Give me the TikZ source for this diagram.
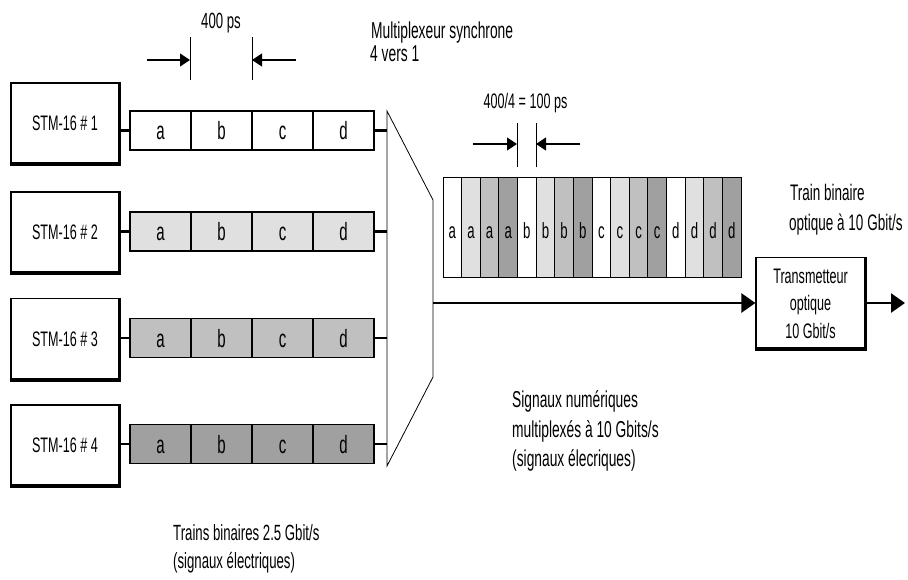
\documentclass[tikz,border=0pt]{standalone}
\usepackage{fontspec}
\setmainfont{Liberation Sans}[FakeStretch=0.6]
\usetikzlibrary{arrows.meta}
\definecolor{gA}{RGB}{255,255,255}
\definecolor{gB}{RGB}{224,224,224}
\definecolor{gC}{RGB}{192,192,192}
\definecolor{gD}{RGB}{160,160,160}
\begin{document}
\begin{tikzpicture}[x=1pt,y=-1pt,
  stmbox/.style={draw,line width=1.2pt,fill=white,minimum width=108pt,minimum height=80pt,inner sep=0pt,text height=15pt,text depth=0pt,font=\fontsize{21}{24}\selectfont},
  cell/.style={draw,line width=1.2pt,minimum width=61pt,minimum height=39pt,inner sep=0pt,text height=18pt,text depth=0pt,font=\fontsize{25}{28}\selectfont},
  mcell/.style={draw,line width=1pt,minimum width=18.625pt,minimum height=100pt,inner sep=0pt,text height=22pt,text depth=0pt,font=\fontsize{22}{26}\selectfont},
  lbl/.style={inner sep=0pt,font=\fontsize{21}{24}\selectfont},
  lblb/.style={inner sep=0pt,font=\fontsize{23}{26}\selectfont},
  link/.style={line width=2.6pt},
  bigarrow/.style={line width=2.6pt,-{Triangle[length=14pt,width=19pt]}},
  dimarrow/.style={line width=1.2pt,-{Triangle[length=10pt,width=13pt]}},
  tick/.style={line width=1pt}
]
\useasboundingbox (0,0) rectangle (908,579);

% STM boxes
\node[stmbox] (stm1) at (65,123) {STM-16 \# 1};
\node[stmbox] (stm2) at (65,232) {STM-16 \# 2};
\node[stmbox] (stm3) at (65,338.5) {STM-16 \# 3};
\node[stmbox] (stm4) at (65,445) {STM-16 \# 4};
\foreach \s in {stm1,stm2,stm3,stm4}{
  \draw[line width=3pt] ([xshift=-0.6pt,yshift=-1pt]\s.south west) -- ([xshift=1pt,yshift=-1pt]\s.south east);
  \draw[line width=1.8pt] ([xshift=0.6pt]\s.north east) -- ([xshift=0.6pt]\s.south east);
}

% packets
\foreach \r/\y/\col in {1/130.5/gA,2/231.5/gB,3/338/gC,4/444/gD}{
  \foreach \l [count=\i from 0] in {a,b,c,d}{
    \node[cell,fill=\col] (p\r\l) at (160.5+61*\i,\y) {\l};
  }
}

% multiplexer shape
\coordinate (mtl) at (387,111);
\coordinate (mbl) at (387,466);
\coordinate (mtr) at (433,200);
\coordinate (mbr) at (433,377);
\coordinate (mout) at (433,303);
\draw[line width=0.8pt] (mtl) -- (mbl) -- (mbr) -- (mtr) -- cycle;

% links
\foreach \r in {1,2,3,4}{
  \draw[link] (stm\r.east |- p\r a.west) -- (p\r a.west);
  \draw[link] (p\r d.east) -- (p\r d.east -| mtl);
}

% multiplexed train
\foreach \l [count=\j from 0] in {a,b,c,d}{
  \foreach \col [count=\k from 0] in {gA,gB,gC,gD}{
    \pgfmathsetmacro{\xx}{443+18.625*(4*\j+\k+0.5)}
    \node[mcell,fill=\col] (m\l\k) at (\xx,227) {\l};
  }
}

% transmitter
\node[draw,line width=1.2pt,fill=white,minimum width=109pt,minimum height=90pt,inner sep=0pt] (tx) at (810.5,302.5) {};
\draw[line width=3pt] ([xshift=-0.6pt,yshift=-1pt]tx.south west) -- ([xshift=1pt,yshift=-1pt]tx.south east);
\draw[line width=1.8pt] ([xshift=0.6pt]tx.north east) -- ([xshift=0.6pt]tx.south east);
\node[lbl,anchor=base] (tx1) at (810.5,283) {Transmetteur};
\node[lbl,anchor=base] (tx2) at (810.5,310) {optique};
\node[lbl,anchor=base] (tx3) at (810.5,338) {10 Gbit/s};
\coordinate (txend) at (905,303);

\draw[bigarrow] (mout) -- (tx.west |- mout);
\draw[bigarrow] (tx.east |- txend) -- (txend);

% dimension 400 ps
\coordinate (t1a) at (190,37); \coordinate (t1b) at (190,80);
\coordinate (t2a) at (252,37); \coordinate (t2b) at (252,80);
\coordinate (a1s) at (147,60); \coordinate (a2s) at (296,60);
\draw[tick] (t1a) -- (t1b);
\draw[tick] (t2a) -- (t2b);
\draw[dimarrow] (a1s) -- (a1s -| t1a);
\draw[dimarrow] (a2s) -- (a2s -| t2a);
\node[lbl,anchor=base,font=\fontsize{22}{24}\selectfont] (l400) at (221,28) {400 ps};

% dimension 100 ps
\coordinate (u1a) at (517,123); \coordinate (u1b) at (517,167);
\coordinate (u2a) at (536,123); \coordinate (u2b) at (536,167);
\coordinate (b1s) at (473,144); \coordinate (b2s) at (580,144);
\draw[tick] (u1a) -- (u1b);
\draw[tick] (u2a) -- (u2b);
\draw[dimarrow] (b1s) -- (b1s -| u1a);
\draw[dimarrow] (b2s) -- (b2s -| u2a);
\node[lbl,anchor=base] (l100) at (525.5,108) {400/4 = 100 ps};

% labels
\node[lblb,anchor=base west] (mux1) at (371,38) {Multiplexeur synchrone};
\node[lblb,anchor=base west] (mux2) at (370,61) {4 vers 1};
\node[lblb,anchor=base west,font=\fontsize{22.5}{26}\selectfont] (tr1) at (790,200) {Train binaire};
\node[lblb,anchor=base west,font=\fontsize{22.5}{26}\selectfont] (tr2) at (789,230) {optique à 10 Gbit/s};
\node[lblb,anchor=base west] (sg1) at (512,407) {Signaux numériques};
\node[lblb,anchor=base west] (sg2) at (512,437) {multiplexés à 10 Gbits/s};
\node[lblb,anchor=base west] (sg3) at (512,466) {(signaux élecriques)};
\node[lblb,anchor=base west,font=\fontsize{22}{26}\selectfont] (bt1) at (173,540) {Trains binaires 2.5 Gbit/s};
\node[lblb,anchor=base west,font=\fontsize{22}{26}\selectfont] (bt2) at (173,568) {(signaux électriques)};
\end{tikzpicture}
\end{document}
